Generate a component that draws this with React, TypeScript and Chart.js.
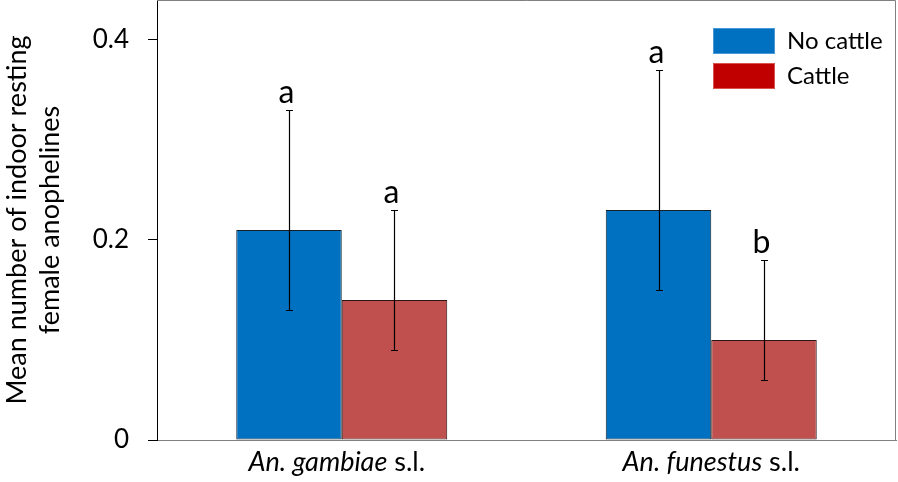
import React, { useEffect, useRef } from "react";
import { Chart, registerables } from "chart.js";

Chart.register(...registerables);

// ---- Data ----
const categoryItalic = ["An. gambiae", "An. funestus"];
const categorySuffix = ["s.l.", "s.l."];
const categories = categoryItalic.map((c, i) => `${c} ${categorySuffix[i]}`);

const seriesNames = ["No cattle", "Cattle"];
const noCattle = [0.21, 0.23];
const cattle = [0.14, 0.1];

const noCattleLow = [0.13, 0.15];
const noCattleHigh = [0.33, 0.37];
const cattleLow = [0.09, 0.06];
const cattleHigh = [0.23, 0.18];

const noCattleLetters = ["a", "a"];
const cattleLetters = ["a", "b"];

const yTickValues = [0, 0.2, 0.4];
const yMax = 0.44;

// ---- Styles ----
const FONT = "Lato";
const barColors = ["#0070C0", "#C0504D"];
const barBorders = ["#15202B", "#2E1414"];
const legendColors = ["#0070C0", "#C00000"];
const legendBorders = ["#4A98D6", "#D9534F"];

const errLows = [noCattleLow, cattleLow];
const errHighs = [noCattleHigh, cattleHigh];
const letterSets = [noCattleLetters, cattleLetters];

const decorPlugin = {
  id: "decor",
  afterDatasetsDraw(chart: any) {
    const ctx = chart.ctx;
    const yScale = chart.scales.y;
    const xScale = chart.scales.x;
    const area = chart.chartArea;
    ctx.save();

    // error bars + significance letters
    chart.data.datasets.forEach((_ds: any, di: number) => {
      const meta = chart.getDatasetMeta(di);
      meta.data.forEach((el: any, i: number) => {
        const x = Math.round(el.x) + 0.5;
        const yl = Math.round(yScale.getPixelForValue(errLows[di][i])) + 0.5;
        const yh = Math.round(yScale.getPixelForValue(errHighs[di][i])) + 0.5;
        ctx.strokeStyle = "#000";
        ctx.lineWidth = 1.2;
        ctx.beginPath();
        ctx.moveTo(x, yh);
        ctx.lineTo(x, yl);
        ctx.moveTo(x - 3.5, yh);
        ctx.lineTo(x + 3.5, yh);
        ctx.moveTo(x - 3.5, yl);
        ctx.lineTo(x + 3.5, yl);
        ctx.stroke();

        ctx.fillStyle = "#000";
        ctx.font = `32px ${FONT}`;
        ctx.textAlign = "center";
        ctx.textBaseline = "alphabetic";
        ctx.fillText(letterSets[di][i], x - 3, yh - 8);
      });
    });

    // top and right frame
    ctx.strokeStyle = "#808080";
    ctx.lineWidth = 1;
    ctx.beginPath();
    ctx.moveTo(area.left, area.top + 0.5);
    ctx.lineTo(area.right - 0.5, area.top + 0.5);
    ctx.lineTo(area.right - 0.5, area.bottom);
    ctx.stroke();

    // category labels (italic genus + upright suffix)
    ctx.fillStyle = "#000";
    ctx.textBaseline = "alphabetic";
    ctx.textAlign = "left";
    categories.forEach((_c, i) => {
      const cx = xScale.getPixelForValue(i);
      const it = categoryItalic[i];
      const rest = " " + categorySuffix[i];
      ctx.font = `italic 27px ${FONT}`;
      const w1 = ctx.measureText(it).width;
      ctx.font = `27px ${FONT}`;
      const w2 = ctx.measureText(rest).width;
      const start = cx - (w1 + w2) / 2 - (i === 0 ? 5 : 0);
      ctx.font = `italic 27px ${FONT}`;
      ctx.fillText(it, start, area.bottom + 31);
      ctx.font = `27px ${FONT}`;
      ctx.fillText(rest, start + w1, area.bottom + 31);
    });

    // legend
    const lx = area.right - 183;
    seriesNames.forEach((name, i) => {
      const top = 28 + i * 35;
      ctx.fillStyle = legendColors[i];
      ctx.fillRect(lx, top, 62, 26);
      ctx.strokeStyle = legendBorders[i];
      ctx.lineWidth = 1;
      ctx.strokeRect(lx + 0.5, top + 0.5, 61, 25);
      ctx.fillStyle = "#000";
      ctx.font = `24px ${FONT}`;
      ctx.textAlign = "left";
      ctx.textBaseline = "middle";
      ctx.fillText(name, lx + 74, top + 13);
    });

    ctx.restore();
  },
};

export default function App() {
  const canvasRef = useRef<HTMLCanvasElement | null>(null);

  useEffect(() => {
    document.body.style.margin = "0";
    let chart: Chart | null = null;
    let cancelled = false;

    const build = () => {
      if (cancelled || !canvasRef.current) return;
      chart = new Chart(canvasRef.current, {
        type: "bar",
        data: {
          labels: categories,
          datasets: [
            {
              label: seriesNames[0],
              data: noCattle,
              backgroundColor: barColors[0],
              borderColor: barBorders[0],
              borderWidth: 1,
              borderSkipped: false,
              categoryPercentage: 0.571,
              barPercentage: 1,
            },
            {
              label: seriesNames[1],
              data: cattle,
              backgroundColor: barColors[1],
              borderColor: barBorders[1],
              borderWidth: 1,
              borderSkipped: false,
              categoryPercentage: 0.571,
              barPercentage: 1,
            },
          ],
        },
        options: {
          responsive: false,
          animation: false,
          layout: { padding: { left: 0, top: 0, right: 2, bottom: 42 } },
          plugins: {
            legend: { display: false },
            tooltip: { enabled: false },
          },
          scales: {
            x: {
              offset: true,
              grid: { display: false, drawTicks: false },
              border: { display: true, color: "#808080", width: 1 },
              ticks: { display: false },
              afterFit: (s: any) => {
                s.height = 0;
              },
            } as any,
            y: {
              min: 0,
              max: yMax,
              afterBuildTicks: (s: any) => {
                s.ticks = yTickValues.map((v) => ({ value: v }));
              },
              afterFit: (s: any) => {
                s.width = 157;
                s.paddingTop = 0;
                s.paddingBottom = 0;
              },
              grid: {
                drawOnChartArea: false,
                drawTicks: true,
                tickLength: 9,
                color: "#000",
              },
              border: { display: true, color: "#000", width: 1 },
              ticks: {
                padding: 19,
                color: "#000",
                font: { family: FONT, size: 26 },
                callback: (v: any) => (Number(v) === 0 ? "0" : Number(v).toFixed(1)),
              },
              title: {
                display: true,
                text: ["Mean number of indoor resting", "female anophelines"],
                color: "#000",
                font: { family: FONT, size: 27, lineHeight: 1.25 },
                padding: { top: 0, bottom: 0 },
              },
            },
          },
        },
        plugins: [decorPlugin],
      });
    };

    const fontsApi: any = (document as any).fonts;
    if (fontsApi && fontsApi.load) {
      Promise.all([
        fontsApi.load(`26px ${FONT}`),
        fontsApi.load(`italic 26px ${FONT}`),
      ])
        .catch(() => undefined)
        .then(build);
    } else {
      build();
    }

    return () => {
      cancelled = true;
      if (chart) chart.destroy();
    };
  }, []);

  return (
    <div style={{ width: 898, height: 482 }}>
      <canvas ref={canvasRef} width={898} height={482} style={{ display: "block" }} />
    </div>
  );
}
